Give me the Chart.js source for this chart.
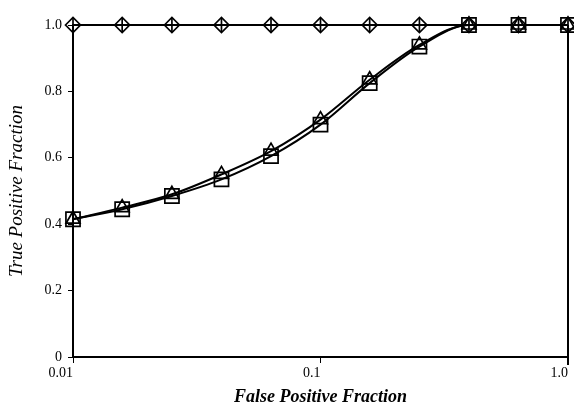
<!DOCTYPE html>
<html>
<head>
<meta charset="utf-8">
<script src="https://cdn.jsdelivr.net/npm/chart.js@4.4.1/dist/chart.umd.min.js"></script>
<style>
  html, body { margin: 0; padding: 0; background: #fff; }
  #wrap { width: 574px; height: 411px; }
</style>
</head>
<body>
<div id="wrap"><canvas id="roc"></canvas></div>
<script>
// false positive fraction (log axis) and the three curves
const fpf = [0.01, 0.0158, 0.0251, 0.0398, 0.0631, 0.1, 0.158, 0.251, 0.398, 0.631, 1.0];
const diamondTpf = [1, 1, 1, 1, 1, 1, 1, 1, 1, 1, 1];
const triangleTpf = [0.415, 0.45, 0.49, 0.55, 0.62, 0.715, 0.835, 0.94, 1, 1, 1];
const squareTpf = [0.415, 0.445, 0.485, 0.535, 0.605, 0.70, 0.825, 0.935, 1, 1, 1];
const xTicks = [0.01, 0.1, 1.0];
const yTicks = [0, 0.2, 0.4, 0.6, 0.8, 1.0];

const toPts = (ys) => fpf.map((x, i) => ({ x: x, y: ys[i] }));
const serif = "'Liberation Serif', 'DejaVu Serif', serif";

// right hand frame line of the plot
const frame = {
  id: 'frame',
  afterDraw(chart) {
    const a = chart.chartArea, ctx = chart.ctx;
    ctx.save();
    ctx.strokeStyle = '#000';
    ctx.lineWidth = 2;
    ctx.beginPath();
    ctx.moveTo(a.right, a.top);
    ctx.lineTo(a.right, a.bottom + 8);
    ctx.stroke();
    ctx.restore();
  }
};

const line = (data, style, radius) => ({
  data: toPts(data),
  borderColor: '#000',
  borderWidth: 2,
  backgroundColor: '#fff',
  pointStyle: style,
  pointRadius: radius,
  pointBorderColor: '#000',
  pointBackgroundColor: 'rgba(255,255,255,0)',
  pointBorderWidth: 1.7,
  cubicInterpolationMode: 'monotone',
  fill: false
});

new Chart(document.getElementById('roc'), {
  type: 'line',
  data: {
    datasets: [
      line(squareTpf, 'rect', 10),
      line(triangleTpf, 'triangle', 8),
      line(diamondTpf, 'rectRot', 7.5),
      // small vertical stroke inside each diamond
      Object.assign(line(diamondTpf, 'line', 7), { showLine: false, pointRotation: 90, borderWidth: 1.5 })
    ]
  },
  options: {
    responsive: true,
    maintainAspectRatio: false,
    animation: false,
    clip: false,
    layout: { autoPadding: false, padding: { top: 25, right: 6, left: 0, bottom: 0 } },
    plugins: { legend: { display: false }, tooltip: { enabled: false } },
    scales: {
      x: {
        type: 'logarithmic',
        min: 0.01,
        max: 1.0,
        afterBuildTicks: (s) => { s.ticks = xTicks.map(v => ({ value: v })); },
        afterFit: (s) => { s.height = 54; },
        border: { color: '#000', width: 2 },
        grid: { drawOnChartArea: false, drawTicks: true, tickLength: 6, color: '#000' },
        ticks: {
          color: '#000',
          padding: 2,
          align: 'end',
          maxRotation: 0,
          font: { family: serif, size: 14 },
          callback: (v) => v === 1 ? '1.0' : String(v)
        },
        title: {
          display: true,
          text: 'False Positive Fraction',
          color: '#000',
          padding: { top: 4, bottom: 3 },
          font: { family: serif, size: 18, style: 'italic', weight: 'bold' }
        }
      },
      y: {
        min: 0,
        max: 1.0,
        afterBuildTicks: (s) => { s.ticks = yTicks.map(v => ({ value: v })); },
        afterFit: (s) => { s.width = 73; },
        border: { color: '#000', width: 2 },
        grid: { drawOnChartArea: false, drawTicks: true, tickLength: 5, color: '#000' },
        ticks: {
          color: '#000',
          padding: 6,
          font: { family: serif, size: 14 },
          callback: (v) => v === 0 ? '0' : v.toFixed(1)
        },
        title: {
          display: true,
          text: 'True Positive Fraction',
          color: '#000',
          padding: { top: 6, bottom: 0 },
          font: { family: serif, size: 19, style: 'italic' }
        }
      }
    }
  },
  plugins: [frame]
});
</script>
</body>
</html>
